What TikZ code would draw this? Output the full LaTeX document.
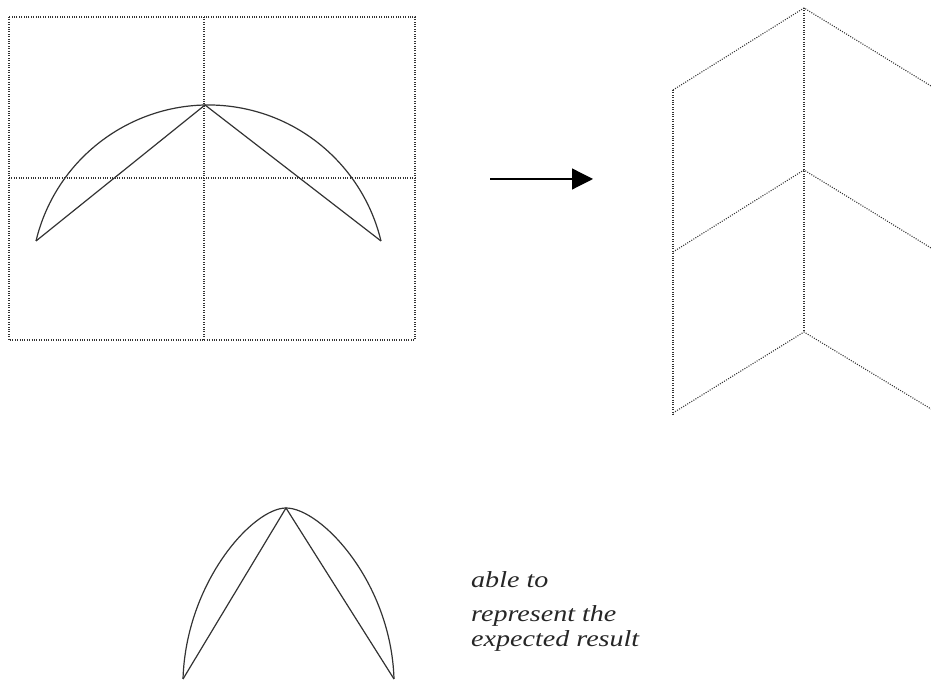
\documentclass[tikz,border=0pt]{standalone}
\usepackage{fontspec}
\usetikzlibrary{arrows.meta}
\newfontfamily\notefont[FakeStretch=1.22]{Liberation Serif}
\tikzset{
  dotline/.style={line width=1.1pt, dash pattern=on 1pt off 1.4pt, draw=black!80},
  solidline/.style={line width=1.2pt, draw=black!80},
  note/.style={anchor=base west, inner sep=0pt, text=black!85, font=\notefont\itshape\fontsize{23}{26}\selectfont}
}
\begin{document}
\begin{tikzpicture}[x=1pt,y=1pt]
\useasboundingbox (0,0) rectangle (931,682);
% ---- left grid box ----
\coordinate (bTL) at (9,665);
\coordinate (bBR) at (415,342);
\coordinate (vT) at (204,665);
\coordinate (vB) at (204,342);
\coordinate (hL) at (9,504);
\coordinate (hR) at (415,504);
\draw[dotline] (bTL) rectangle (bBR);
\draw[dotline] (vT) -- (vB);
\draw[dotline] (hL) -- (hR);
% ---- arc with chords ----
\coordinate (aL) at (36,441);
\coordinate (aR) at (381,441);
\coordinate (aTop) at (205,577);
\draw[solidline] (aL) arc[start angle=166.5, end angle=13.5, radius=177.4];
\draw[solidline] (aL) -- (aTop) -- (aR);
% ---- arrow ----
\coordinate (arS) at (490,503);
\coordinate (arE) at (593,503);
\draw[line width=1.2pt, -{Triangle[length=21pt,width=21pt]}] (arS) -- (arE);
% ---- right chevron pattern ----
\coordinate (t1) at (804,674);
\coordinate (t2) at (804,512);
\coordinate (t3) at (804,350);
\coordinate (l1) at (673,592);
\coordinate (l2) at (673,430);
\coordinate (l3) at (673,269);
\coordinate (l4) at (673,266);
\coordinate (r1) at (931,596);
\coordinate (r2) at (931,434);
\coordinate (r3) at (931,273);
\draw[dotline] (l1) -- (t1) -- (r1);
\draw[dotline] (l2) -- (t2) -- (r2);
\draw[dotline] (l3) -- (t3) -- (r3);
\draw[dotline] (l1) -- (l4);
\draw[dotline] (t1) -- (t3);
% ---- bottom pointed arch ----
\coordinate (cL) at (183,3);
\coordinate (cR) at (394,3);
\coordinate (cTop) at (286,174);
\draw[solidline] (cL) .. controls (186,100) and (253,174) .. (cTop)
                      .. controls (321,174) and (391,100) .. (cR);
\draw[solidline] (cL) -- (cTop) -- (cR);
% ---- text ----
\node[note] (n1) at (471,94) {able to};
\node[note] (n2) at (471,60) {represent the};
\node[note] (n3) at (471,35) {expected result};
\end{tikzpicture}
\end{document}
